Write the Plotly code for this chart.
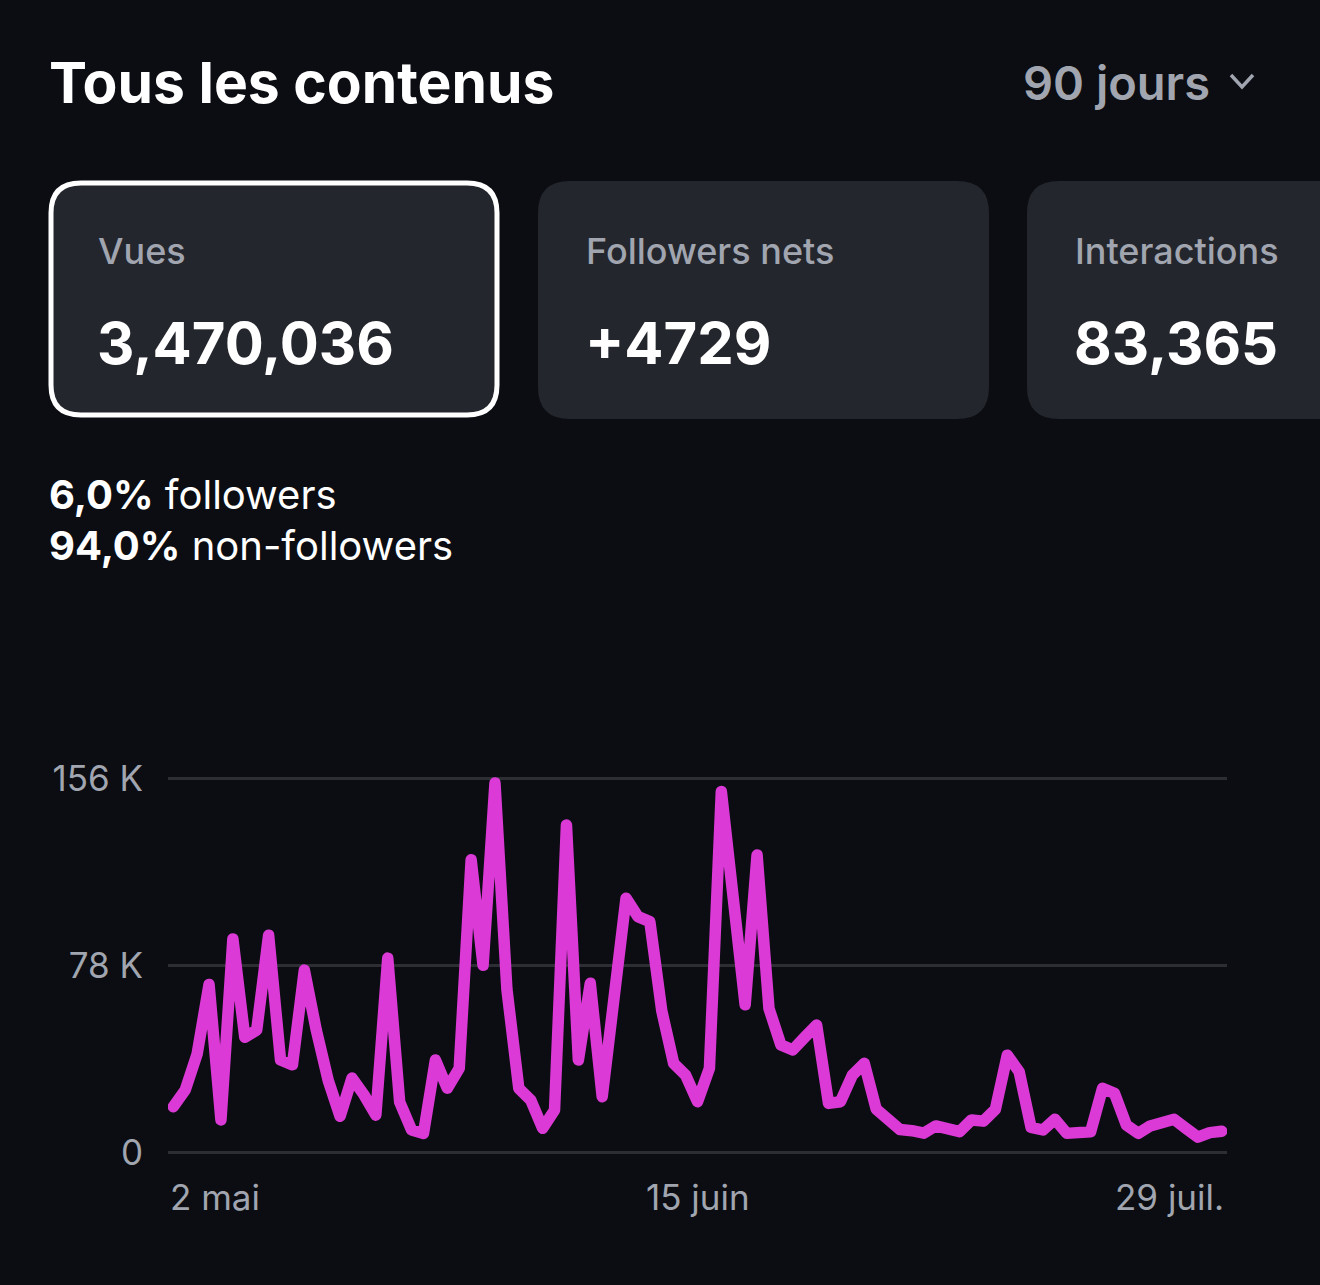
import pandas as pd
import plotly.graph_objects as go

# ---------------- data ----------------
start_date = "2024-05-02"
end_date = "2024-07-29"
views_k = [
    19, 26, 41, 70, 13.5, 89, 48, 51, 90.5, 38.5,
    36.5, 76, 51, 30, 15, 31, 24, 15.5, 81, 21,
    9.3, 7.9, 38.5, 26.7, 35, 122, 78, 154, 68, 26.7,
    21.8, 10, 17.6, 136.5, 38.5, 70.5, 23.2, 63, 106, 98.3,
    96.2, 59, 37.1, 32.2, 21.1, 35, 150.5, 106, 61.5, 124,
    60, 44.8, 42.7, 48, 53.1, 20.4, 21.1, 32.2, 37.1, 18,
    14, 9.5, 9, 8, 11, 9.7, 8.6, 13.5, 13, 17.9,
    40.5, 33.6, 10.4, 9.3, 13.8, 7.9, 8.2, 8.6, 26.7, 24.6,
    11.4, 7.9, 11, 12.5, 13.8, 10, 6.3, 8.2, 8.8,
]
y_tick_vals = [0, 78000, 156000]
y_tick_text = ["0", "78 K", "156 K"]
x_tick_dates = ["2024-05-02", "2024-06-15", "2024-07-29"]
x_tick_text = ["2 mai", "15 juin", "29 juil."]

title_text = "Tous les contenus"
period_text = "90 jours"
card_labels = ["Vues", "Followers nets", "Interactions"]
card_values = ["3,470,036", "+4729", "83,365"]
split_pct = ["6,0%", "94,0%"]
split_labels = ["followers", "non-followers"]

dates = pd.date_range(start_date, end_date, freq="D")
views = [v * 1000 for v in views_k]

# ---------------- layout geometry ----------------
W, H = 1320, 1285
L, R, T, B = 168, 93, 760, 115
PW, PH = W - L - R, H - T - B

BG = "#0B0D12"
CARD = "#24262D"
GRID = "#2C2E34"
GRAY = "#A0A5AF"
LINE = "#DB3AD6"
FONT = "Inter"


def px(x):
    return (x - L) / PW


def py(y):
    return (H - B - y) / PH


def rrect(x0, y0, x1, y1, r):
    pts = [
        ("M", [(x0 + r, y0)]),
        ("L", [(x1 - r, y0)]),
        ("Q", [(x1, y0), (x1, y0 + r)]),
        ("L", [(x1, y1 - r)]),
        ("Q", [(x1, y1), (x1 - r, y1)]),
        ("L", [(x0 + r, y1)]),
        ("Q", [(x0, y1), (x0, y1 - r)]),
        ("L", [(x0, y0 + r)]),
        ("Q", [(x0, y0), (x0 + r, y0)]),
    ]
    s = ""
    for cmd, ps in pts:
        s += cmd + " " + " ".join(f"{px(a):.5f},{py(b):.5f}" for a, b in ps) + " "
    return s + "Z"


fig = go.Figure()
fig.add_trace(
    go.Scatter(
        x=dates,
        y=views,
        mode="lines",
        line=dict(color=LINE, width=11.5),
        hoverinfo="skip",
        showlegend=False,
    )
)

pad = pd.Timedelta(hours=10.7)
shapes = []
# cards
shapes.append(dict(type="path", xref="paper", yref="paper",
                   path=rrect(51, 183, 497, 415, 30),
                   fillcolor=CARD, line=dict(color="#FFFFFF", width=5), layer="below"))
shapes.append(dict(type="path", xref="paper", yref="paper",
                   path=rrect(538, 181, 989, 419, 32),
                   fillcolor=CARD, line=dict(width=0), layer="below"))
shapes.append(dict(type="path", xref="paper", yref="paper",
                   path=rrect(1027, 181, 1380, 419, 32),
                   fillcolor=CARD, line=dict(width=0), layer="below"))
# chevron
shapes.append(dict(type="path", xref="paper", yref="paper",
                   path=f"M {px(1231):.5f},{py(75):.5f} L {px(1242):.5f},{py(87):.5f} L {px(1253):.5f},{py(75):.5f}",
                   line=dict(color=GRAY, width=3.5)))

ann = []
ann.append(dict(text=title_text, x=px(47), y=py(82), xref="paper", yref="paper",
                xanchor="left", yanchor="middle", showarrow=False,
                font=dict(family=FONT, size=57, color="#FFFFFF", weight=700)))
ann.append(dict(text=period_text, x=px(1212), y=py(82), xref="paper", yref="paper",
                xanchor="right", yanchor="middle", showarrow=False,
                font=dict(family=FONT, size=47, color=GRAY, weight=600)))
card_x = [98, 586, 1075]
for cx, lab, val in zip(card_x, card_labels, card_values):
    ann.append(dict(text=lab, x=px(cx - 2), y=py(251), xref="paper", yref="paper",
                    xanchor="left", yanchor="middle", showarrow=False,
                    font=dict(family=FONT, size=36, color=GRAY, weight=500)))
    ann.append(dict(text=val, x=px(cx - 3), y=py(343), xref="paper", yref="paper",
                    xanchor="left", yanchor="middle", showarrow=False,
                    font=dict(family=FONT, size=58, color="#FFFFFF", weight=700)))
for i, (pct, lab) in enumerate(zip(split_pct, split_labels)):
    ann.append(dict(text=f"<b>{pct}</b> {lab}", x=px(47), y=py(494 + 51 * i),
                    xref="paper", yref="paper", xanchor="left", yanchor="middle",
                    showarrow=False,
                    font=dict(family=FONT, size=40, color="#FFFFFF", weight=400)))
# x tick labels
anchors = ["left", "center", "right"]
shifts = [-5, 0, 4]
for d, t, a, s in zip(x_tick_dates, x_tick_text, anchors, shifts):
    ann.append(dict(text=t, x=pd.Timestamp(d), y=py(1197), xref="x", yref="paper",
                    xanchor=a, yanchor="middle", xshift=s, showarrow=False,
                    font=dict(family=FONT, size=35, color=GRAY)))

fig.update_layout(
    width=W, height=H,
    margin=dict(l=L, r=R, t=T, b=B, autoexpand=False),
    paper_bgcolor=BG, plot_bgcolor=BG,
    shapes=shapes, annotations=ann,
    xaxis=dict(range=[dates[0] - pad, dates[-1] + pad], showgrid=False,
               showticklabels=False, zeroline=False, showline=False, ticks=""),
    yaxis=dict(range=[-7380, 163630], tickvals=y_tick_vals, ticktext=y_tick_text,
               showgrid=True, gridcolor=GRID, gridwidth=2.5, zeroline=False,
               showline=False, ticks="", ticklabelstandoff=24,
               tickfont=dict(family=FONT, size=35, color=GRAY)),
    hovermode=False,
)

post = ("document.querySelectorAll('.scatterlayer .js-line').forEach(function(p){"
        "p.style.strokeLinejoin='round';p.style.strokeLinecap='round';});")
fig.write_html("out.html", post_script=post, config={"displayModeBar": False})
